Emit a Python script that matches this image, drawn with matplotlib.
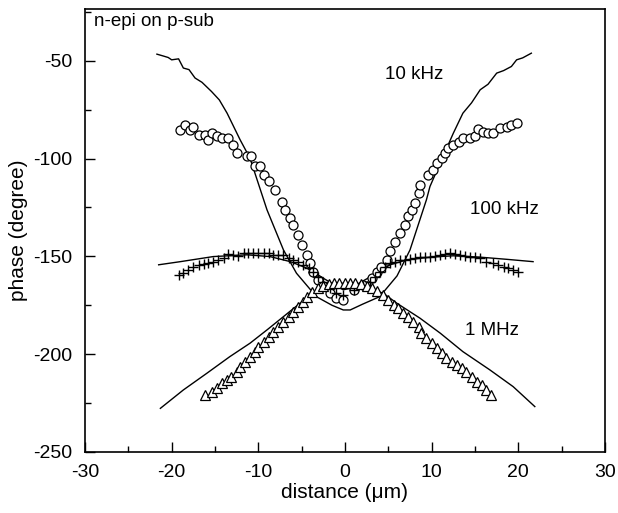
import numpy as np
import matplotlib.pyplot as plt
from matplotlib.ticker import MultipleLocator

plt.rcParams['font.family'] = ['Liberation Sans', 'DejaVu Sans']
plt.rcParams['axes.unicode_minus'] = False

# --- 10 kHz: measured (circles) and simulated (line) ---
x_10k = [-19.0, -18.5, -17.9, -17.5, -16.9, -16.1, -15.8, -15.4, -14.8, -14.2,
         -13.5, -12.9, -12.5, -11.3, -10.8, -10.4, -9.8, -9.4, -8.8, -8.1,
         -7.3, -6.9, -6.3, -6.0, -5.4, -5.0, -4.4, -4.0, -3.7, -3.1,
         -2.5, -1.7, -1.0, -0.2, 1.0, 2.1, 3.1, 3.7, 4.2, 4.8,
         5.2, 5.8, 6.3, 6.9, 7.3, 7.7, 8.1, 8.5, 8.65, 9.6,
         10.2, 10.6, 11.2, 11.5, 11.9, 12.5, 13.1, 13.6, 14.4, 15.0,
         15.4, 15.95, 16.5, 17.1, 17.9, 18.65, 19.2, 19.8]
y_10k = [-85.3, -82.7, -85.3, -83.6, -87.9, -87.9, -90.4, -86.7, -88.7, -89.5,
         -89.5, -93.0, -97.2, -98.6, -98.6, -104.0, -104.0, -108.3, -111.7, -116.0,
         -122.0, -126.2, -130.5, -133.9, -139.0, -144.1, -149.2, -153.5, -157.8, -162.0,
         -165.4, -168.8, -171.4, -172.3, -167.1, -164.6, -161.2, -157.8, -155.2, -151.8,
         -147.5, -142.4, -138.1, -133.9, -129.6, -126.2, -122.8, -117.7, -113.4, -108.3,
         -105.8, -102.3, -99.8, -97.2, -94.7, -93.0, -91.3, -89.5, -89.5, -88.7,
         -85.0, -86.2, -87.0, -87.0, -84.4, -83.6, -82.7, -81.9]
xs_10k = [-21.7, -21.0, -20.4, -20.0, -19.2, -18.65, -18.0, -17.3, -16.5, -15.4,
          -14.5, -13.6, -12.1, -10.96, -9.0, -7.1, -5.6, -3.3, -1.5, -0.2,
          0.6, 2.0, 4.0, 6.0, 7.5, 9.4, 9.8, 11.3, 12.5, 13.6,
          14.6, 15.6, 16.5, 17.5, 18.3, 19.2, 19.8, 20.5, 21.5]
ys_10k = [-46.6, -47.5, -48.3, -49.5, -49.0, -53.7, -54.5, -58.8, -61.0, -65.7,
          -70.0, -76.8, -90.4, -99.8, -126.2, -146.7, -158.6, -170.6, -175.0, -177.4,
          -177.4, -174.5, -170.6, -160.0, -146.7, -121.0, -114.3, -99.0, -87.0, -76.8,
          -71.5, -64.8, -62.0, -56.3, -55.0, -52.9, -49.5, -48.5, -46.1]

# --- 100 kHz: measured (pluses) and simulated (line) ---
x_100k = [-19.2, -18.65, -18.1, -17.5, -16.9, -16.3, -15.8, -15.2, -14.6, -14.0,
          -13.5, -12.9, -12.3, -11.7, -11.2, -10.6, -10.0, -9.4, -8.8, -8.3,
          -7.7, -7.1, -6.5, -6.0, -5.4, -4.8, -4.2, -3.7, -3.1, -2.5,
          -1.7, -1.0, -0.2, 1.0, 2.1, 2.9, 3.5, 4.0, 4.6, 5.2,
          5.8, 6.3, 6.9, 7.5, 8.1, 8.65, 9.2, 9.8, 10.4, 11.0,
          11.5, 12.1, 12.7, 13.3, 13.8, 14.4, 15.0, 15.6, 16.3, 17.1,
          17.7, 18.3, 18.8, 19.4, 20.0]
y_100k = [-159.5, -158.6, -156.9, -155.2, -154.3, -153.8, -153.5, -152.7, -151.8, -150.9,
          -148.7, -149.2, -149.7, -148.1, -148.4, -148.1, -148.4, -148.1, -148.4, -149.2,
          -149.2, -149.2, -150.9, -151.8, -152.7, -154.3, -156.0, -157.8, -160.3, -162.9,
          -166.3, -168.8, -169.7, -167.1, -165.4, -162.9, -160.3, -157.8, -155.2, -153.5,
          -152.7, -152.1, -151.8, -151.5, -150.9, -150.4, -150.4, -150.1, -149.7, -149.2,
          -148.7, -148.4, -148.7, -149.2, -149.7, -150.1, -150.1, -150.9, -152.7, -153.5,
          -154.3, -155.2, -156.0, -156.9, -157.8]
xs_100k = [-21.5, -19.0, -15.2, -11.3, -8.65, -6.3, -4.4, -2.5, -0.2, 0.6,
           3.3, 5.2, 7.1, 9.8, 12.5, 15.6, 18.65, 21.7]
ys_100k = [-154.3, -152.7, -150.1, -149.2, -150.1, -152.7, -156.0, -161.2, -167.1, -166.3,
           -159.5, -154.3, -151.8, -150.4, -149.7, -150.4, -151.5, -152.7]

# --- 1 MHz: measured (triangles) and simulated (line) ---
x_1m = [-16.1, -15.4, -14.8, -14.2, -13.6, -13.1, -12.5, -12.1, -11.5, -10.96,
        -10.4, -10.0, -9.4, -8.8, -8.3, -7.7, -7.1, -6.5, -6.0, -5.4,
        -4.8, -4.4, -3.8, -3.1, -2.5, -1.9, -1.3, -0.7, 0.0, 0.6,
        1.2, 1.8, 2.5, 3.1, 3.7, 4.4, 5.0, 5.6, 6.1, 6.7,
        7.3, 7.9, 8.5, 8.8, 9.4, 10.0, 10.6, 11.2, 11.7, 12.3,
        12.9, 13.5, 14.0, 14.6, 15.2, 15.8, 16.3, 16.9]
y_1m = [-220.8, -219.1, -217.4, -214.9, -213.2, -211.5, -208.9, -206.4, -203.8, -201.3,
        -198.7, -196.2, -193.6, -191.0, -188.5, -185.9, -183.3, -180.8, -178.2, -175.7,
        -173.1, -170.6, -168.0, -166.0, -165.0, -164.0, -163.5, -163.5, -163.5, -163.5,
        -163.5, -164.0, -165.0, -166.0, -167.5, -169.7, -172.3, -174.8, -176.5, -179.1,
        -180.8, -183.3, -185.9, -189.3, -191.9, -194.4, -197.0, -199.6, -202.1, -203.8,
        -205.5, -207.2, -208.9, -211.5, -214.0, -215.7, -218.3, -220.8]
xs_1m = [-21.3, -18.65, -15.95, -13.3, -10.96, -9.0, -7.1, -5.2, -3.65, -2.0,
         0.0, 2.0, 4.4, 6.0, 8.65, 11.0, 13.6, 16.7, 19.4, 21.9]
ys_1m = [-227.7, -218.3, -209.8, -201.3, -194.4, -187.6, -180.8, -174.0, -168.8, -165.5,
         -163.5, -165.5, -168.8, -174.0, -181.6, -189.3, -198.7, -208.0, -216.6, -226.8]

fig = plt.figure(figsize=(6.18, 5.13), dpi=100)
ax = fig.add_axes([0.1375, 0.119, 0.8415, 0.8635])

ax.plot(xs_10k, ys_10k, color="black", linewidth=1.0)
ax.plot(xs_100k, ys_100k, color="black", linewidth=1.0)
ax.plot(xs_1m, ys_1m, color="black", linewidth=1.0)

ax.plot(x_10k, y_10k, linestyle="none", marker="o", markersize=6.5,
        markerfacecolor="white", markeredgecolor="black", markeredgewidth=0.9)
ax.plot(x_100k, y_100k, linestyle="none", marker="+", markersize=7,
        color="black", markeredgewidth=1.0)
ax.plot(x_1m, y_1m, linestyle="none", marker="^", markersize=6.5,
        markerfacecolor="white", markeredgecolor="black", markeredgewidth=0.9)

ax.text(-29, -30, "n-epi on p-sub", fontsize=13.5, va="center", ha="left")
ax.text(4.6, -57, "10 kHz", fontsize=13.5, va="center", ha="left")
ax.text(14.4, -126, "100 kHz", fontsize=13.5, va="center", ha="left")
ax.text(13.8, -188, "1 MHz", fontsize=13.5, va="center", ha="left")

ax.set_xlim(-30, 30)
ax.set_ylim(-250, -23.5)
ax.xaxis.set_major_locator(MultipleLocator(10))
ax.xaxis.set_minor_locator(MultipleLocator(5))
ax.yaxis.set_major_locator(MultipleLocator(50))
ax.yaxis.set_minor_locator(MultipleLocator(25))
ax.tick_params(which="both", direction="in", labelsize=14)
ax.tick_params(which="major", length=7, width=1)
ax.tick_params(which="minor", length=4, width=1)
ax.tick_params(axis="x", pad=9)
ax.tick_params(axis="y", pad=9)
for s in ax.spines.values():
    s.set_linewidth(1.2)

ax.set_xlabel("distance (\u03bcm)", fontsize=15, labelpad=1)
ax.set_ylabel("phase (degree)", fontsize=15, labelpad=4)

plt.savefig("out.png", dpi=100)
plt.close()
